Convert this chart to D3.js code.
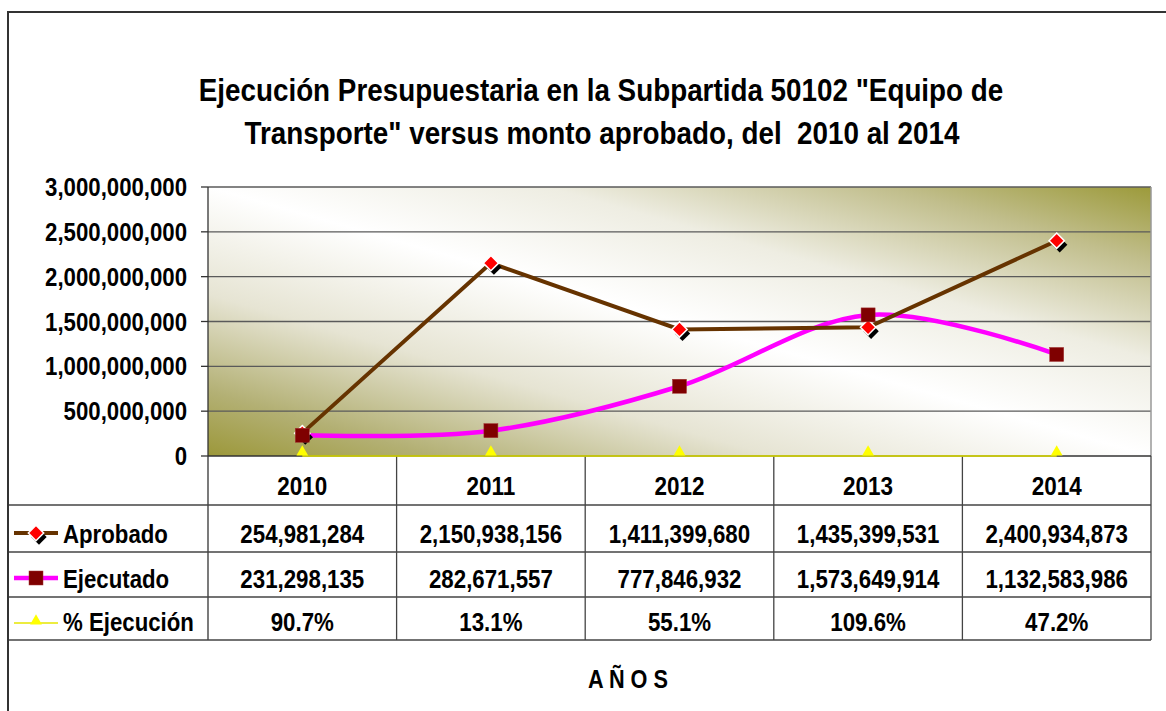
<!DOCTYPE html>
<html><head><meta charset="utf-8">
<script src="https://cdn.jsdelivr.net/npm/d3@7"></script>
<style>
html,body{margin:0;padding:0;background:#fff;}
text{font-family:"Liberation Sans",Arial,sans-serif;font-weight:bold;fill:#000;white-space:pre;}
</style></head>
<body>
<svg id="chart" width="1166" height="711"></svg>
<script>
const years = ["2010", "2011", "2012", "2013", "2014"];
const aprobado = [254981284, 2150938156, 1411399680, 1435399531, 2400934873];
const ejecutado = [231298135, 282671557, 777846932, 1573649914, 1132583986];
const ejecucionPct = [90.7, 13.1, 55.1, 109.6, 47.2];
const yTicks = [0, 500000000, 1000000000, 1500000000, 2000000000, 2500000000, 3000000000];
const seriesNames = ["Aprobado", "Ejecutado", "% Ejecución"];
const titleLines = ['Ejecución Presupuestaria en la Subpartida 50102 "Equipo de', 'Transporte" versus monto aprobado, del  2010 al 2014'];
const axisTitle = "A Ñ O S";

const svg = d3.select("#chart");
const L = 208, R = 1151, T = 187, B = 456;
const rowEdges = [456, 505, 552, 597, 640];
const tableLeft = 9;

const x = d3.scaleBand().domain(years).range([L, R]);
const cx = d => x(d) + x.bandwidth() / 2;
const y = d3.scaleLinear().domain([0, 3000000000]).range([B, T]);

// measuring helper
const meas = svg.append("text").attr("x", -1000).attr("y", -1000);
function natW(str, size) { meas.attr("font-size", size).text(str); return meas.node().getComputedTextLength(); }
function txt(g, str, px, py, size, anchor, sx) {
  return g.append("text").attr("transform", `translate(${px},${py}) scale(${sx},1)`)
    .attr("font-size", size).attr("text-anchor", anchor).text(str);
}

// outer frame
svg.append("rect").attr("x", 8).attr("y", 12).attr("width", 1200).attr("height", 760)
  .attr("fill", "none").attr("stroke", "#333").attr("stroke-width", 2);

// title
const titleSize = 32;
const sxTitle = 805 / natW(titleLines[0], titleSize);
txt(svg, titleLines[0], 601, 101, titleSize, "middle", sxTitle);
txt(svg, titleLines[1], 602, 144, titleSize, "middle", sxTitle);

// gradient background
const defs = svg.append("defs");
const grad = defs.append("linearGradient").attr("id", "bg").attr("x1", 0).attr("y1", 1).attr("x2", 1).attr("y2", 0);
[[0, "#9c983a"], [0.12, "#b3b074"], [0.3, "#e6e4d3"], [0.5, "#ffffff"], [0.68, "#eeede2"], [0.86, "#c1be8c"], [1, "#9c9a3a"]]
  .forEach(([o, c]) => grad.append("stop").attr("offset", o).attr("stop-color", c));
svg.append("rect").attr("x", L).attr("y", T).attr("width", R - L).attr("height", B - T).attr("fill", "url(#bg)");

// gridlines
svg.append("g").selectAll("line").data(yTicks.slice(1)).join("line")
  .attr("x1", L).attr("x2", R).attr("y1", d => y(d)).attr("y2", d => y(d))
  .attr("stroke", "#5a5a5a").attr("stroke-width", 1.3);
// plot border right
svg.append("line").attr("x1", R).attr("x2", R).attr("y1", T).attr("y2", B).attr("stroke", "#999").attr("stroke-width", 1.5);

// y axis
const tickSize = 26;
const sxTick = 142 / natW("3,000,000,000", tickSize);
const fmt = d3.format(",");
const yAxis = svg.append("g");
yAxis.selectAll("line").data(yTicks).join("line")
  .attr("x1", L - 7).attr("x2", L).attr("y1", d => y(d)).attr("y2", d => y(d)).attr("stroke", "#333").attr("stroke-width", 1.3);
yTicks.forEach(t => txt(yAxis, fmt(t), 187, y(t) + 9, tickSize, "end", sxTick));
svg.append("line").attr("x1", L).attr("x2", L).attr("y1", T).attr("y2", rowEdges[4]).attr("stroke", "#333").attr("stroke-width", 1.3);

// table
const tg = svg.append("g");
tg.selectAll("line.v").data(years).join("line")
  .attr("x1", d => x(d) + x.bandwidth()).attr("x2", d => x(d) + x.bandwidth())
  .attr("y1", B).attr("y2", rowEdges[4]).attr("stroke", "#444").attr("stroke-width", 1.3);
tg.selectAll("line.h").data(rowEdges.slice(1)).join("line")
  .attr("x1", tableLeft).attr("x2", R).attr("y1", d => d).attr("y2", d => d).attr("stroke", "#444").attr("stroke-width", 1.3);
tg.append("line").attr("x1", L).attr("x2", R).attr("y1", B).attr("y2", B).attr("stroke", "#333").attr("stroke-width", 1.5);

const yearSize = 26, valSize = 25, legSize = 25;
const sxYear = 50 / natW("2010", yearSize);
const sxVal = 124 / natW("254,981,284", valSize);
const sxLeg = 105 / natW("Aprobado", legSize);
const baseOf = i => rowEdges[i] + (rowEdges[i + 1] - rowEdges[i]) * 0.8;
years.forEach(yr => txt(tg, yr, cx(yr), baseOf(0), yearSize, "middle", sxYear));
const rowsVals = [aprobado.map(fmt), ejecutado.map(fmt), ejecucionPct.map(v => d3.format(".1f")(v) + "%")];
rowsVals.forEach((vals, r) => {
  vals.forEach((v, i) => txt(tg, v, cx(years[i]), baseOf(r + 1), valSize, "middle", sxVal));
  txt(tg, seriesNames[r], 63, baseOf(r + 1), legSize, "start", sxLeg);
});

// marker helpers
const diamond = d3.symbol().type(d3.symbolDiamond2).size(150)();
function drawDiamond(g, px, py) {
  g.append("path").attr("d", diamond).attr("transform", `translate(${px + 3},${py + 4})`).attr("fill", "#000");
  g.append("path").attr("d", diamond).attr("transform", `translate(${px},${py})`).attr("fill", "#ff0000").attr("stroke", "#fff").attr("stroke-width", 1.5);
}
function drawSquare(g, px, py) {
  g.append("rect").attr("x", px - 7).attr("y", py - 7).attr("width", 14).attr("height", 14).attr("fill", "#7f0000").attr("stroke", "#a03030").attr("stroke-width", 0.5);
}
const tri = d3.symbol().type(d3.symbolTriangle).size(60)();
function drawTri(g, px, py) {
  g.append("path").attr("d", tri).attr("transform", `translate(${px},${py})`).attr("fill", "#ffff00");
}

// series
const pg = svg.append("g");
const lineStraight = d3.line().x((d, i) => cx(years[i])).y(d => y(d));
const lineSmooth = d3.line().x((d, i) => cx(years[i])).y(d => y(d)).curve(d3.curveCatmullRom.alpha(0));
pg.append("path").attr("d", lineStraight(ejecucionPct.map(v => v / 100))).attr("fill", "none").attr("stroke", "#e6e600").attr("stroke-width", 1.5);
ejecucionPct.forEach((v, i) => drawTri(pg, cx(years[i]), y(v / 100) - 4));
pg.append("path").attr("d", lineSmooth(ejecutado)).attr("fill", "none").attr("stroke", "#ff00ff").attr("stroke-width", 4.5);
pg.append("path").attr("d", lineStraight(aprobado)).attr("fill", "none").attr("stroke", "#663300").attr("stroke-width", 4);
aprobado.forEach((v, i) => drawDiamond(pg, cx(years[i]), y(v)));
ejecutado.forEach((v, i) => drawSquare(pg, cx(years[i]), y(v)));

// legend keys in table
const lg = svg.append("g");
const lk = [rowEdges[1] + 28, rowEdges[2] + 26, rowEdges[3] + 26];
lg.append("line").attr("x1", 14).attr("x2", 58).attr("y1", lk[0]).attr("y2", lk[0]).attr("stroke", "#663300").attr("stroke-width", 4);
drawDiamond(lg, 36, lk[0]);
lg.append("line").attr("x1", 14).attr("x2", 58).attr("y1", lk[1]).attr("y2", lk[1]).attr("stroke", "#ff00ff").attr("stroke-width", 4.5);
drawSquare(lg, 36, lk[1]);
lg.append("line").attr("x1", 14).attr("x2", 58).attr("y1", lk[2]).attr("y2", lk[2]).attr("stroke", "#e6e600").attr("stroke-width", 1.5);
drawTri(lg, 36, lk[2] - 2);

// x axis title
const sxAx = 80 / natW(axisTitle, 25);
txt(svg, axisTitle, 628, 688, 25, "middle", sxAx);
meas.remove();
</script>
</body></html>
